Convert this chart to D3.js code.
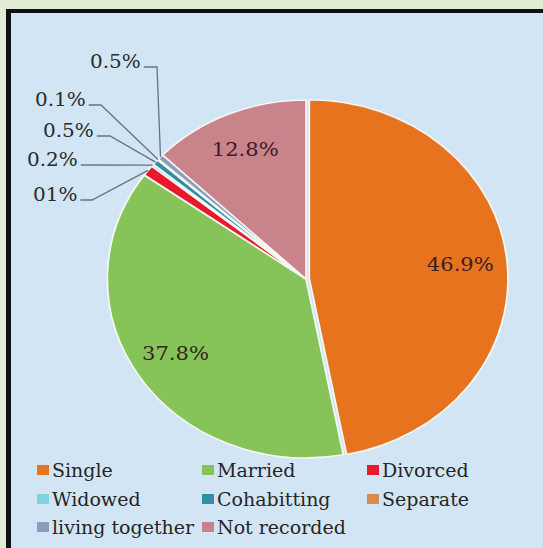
<!DOCTYPE html>
<html>
<head>
<meta charset="utf-8">
<script src="https://cdn.jsdelivr.net/npm/d3@7"></script>
<style>
  body { margin: 0; background: #e3ecd6; }
  svg { display: block; }
  text { font-family: "DejaVu Serif", "Liberation Serif", serif; }
</style>
</head>
<body>
<svg class="pie"></svg>
<script>
// data
let categories = ["Single", "Married", "Divorced", "Widowed", "Cohabitting", "Separate", "living together", "Not recorded"];
let values = [46.9, 37.8, 1.0, 0.2, 0.5, 0.1, 0.5, 12.8];
let valueLabels = ["46.9%", "37.8%", "01%", "0.2%", "0.5%", "0.1%", "0.5%", "12.8%"];
let colors = ["#e8731f", "#86c45a", "#e8192c", "#7fd3e0", "#2e8fa6", "#d98a4c", "#8d9dbd", "#c9838b"];

let W = 543, H = 548;
let svg = d3.select(".pie").attr("width", W).attr("height", H);

// frame
svg.append("rect").attr("x", 6).attr("y", 9).attr("width", W - 6).attr("height", H - 9).style("fill", "#111");
svg.append("rect").attr("x", 11).attr("y", 13).attr("width", W - 11).attr("height", H - 13).style("fill", "#d2e5f4");

// the picture is stretched sideways a bit
let sx = 1.11;
let cx = 306, cy = 279, r = 179;

let pie = d3.pie().sort(null).value(function(d) { return d; });
let arcs = pie(values);
let arc = d3.arc().innerRadius(0).outerRadius(r);
let labelArc = d3.arc().innerRadius(r * 0.78).outerRadius(r * 0.78);
let edgeArc = d3.arc().innerRadius(r).outerRadius(r);

let g = svg.append("g").attr("transform", translate(cx, cy) + " scale(" + sx + ",1)");

g.selectAll("path.slice")
  .data(arcs)
  .enter().append("path")
  .attr("class", "slice")
  .attr("d", arc)
  .attr("transform", function(d, i) {
    // Single is pulled out a little
    if (i != 0) return null;
    let m = (d.startAngle + d.endAngle) / 2;
    return translate(Math.sin(m) * 3, -Math.cos(m) * 3);
  })
  .style("fill", function(d, i) { return colors[i]; })
  .style("stroke", "#f4f7f2")
  .style("stroke-width", 1.6)
  .style("stroke-linejoin", "round");

function stretchedText(x, y) {
  return translate(x, y) + " scale(" + sx + ",1)";
}

// labels inside the big slices
[0, 1, 7].forEach(function(i) {
  let c = labelArc.centroid(arcs[i]);
  svg.append("text")
    .attr("transform", stretchedText(cx + c[0] * sx, cy + c[1]))
    .attr("text-anchor", "middle")
    .attr("dominant-baseline", "middle")
    .style("font-size", "19px")
    .style("fill", "#3a2020")
    .text(valueLabels[i]);
});

// small slices: label spots on the left with leader lines (text left x, baseline y, elbow x)
let smallLabels = [
  {i: 2, x: 33, y: 201, elbow: 92},
  {i: 3, x: 27, y: 166, elbow: null},
  {i: 4, x: 43, y: 137, elbow: 110},
  {i: 5, x: 35, y: 106, elbow: 101},
  {i: 6, x: 90, y: 68, elbow: 157}
];

smallLabels.forEach(function(s) {
  let t = svg.append("text")
    .attr("transform", stretchedText(s.x, s.y))
    .style("font-size", "18px")
    .style("fill", "#2b2b2b")
    .text(valueLabels[s.i]);
  let w = t.node().getComputedTextLength() * sx;
  let e = edgeArc.centroid(arcs[s.i]);
  let pts = [[s.x + w + 3, s.y - 1]];
  if (s.elbow != null) pts.push([s.elbow, s.y - 1]);
  pts.push([cx + e[0] * sx, cy + e[1]]);
  svg.append("path")
    .attr("d", d3.line()(pts))
    .style("fill", "none")
    .style("stroke", "#68737d")
    .style("stroke-width", 1.3);
});

// legend, three columns
let colX = [37, 202, 367];
let rowY = [477, 506, 534];
let legend = svg.selectAll("g.legend")
  .data(categories)
  .enter().append("g")
  .attr("class", "legend")
  .attr("transform", function(d, i) { return translate(colX[i % 3], rowY[Math.floor(i / 3)]); });

legend.append("rect")
  .attr("x", 0)
  .attr("y", -12)
  .attr("width", 12)
  .attr("height", 10)
  .style("fill", function(d, i) { return colors[i]; });

legend.append("text")
  .attr("transform", "translate(15,0) scale(1.0,1)")
  .style("font-size", "19px")
  .style("fill", "#262626")
  .text(function(d) { return d; });

function translate(x, y) {
  return "translate(" + x + "," + y + ")";
}
</script>
</body>
</html>
